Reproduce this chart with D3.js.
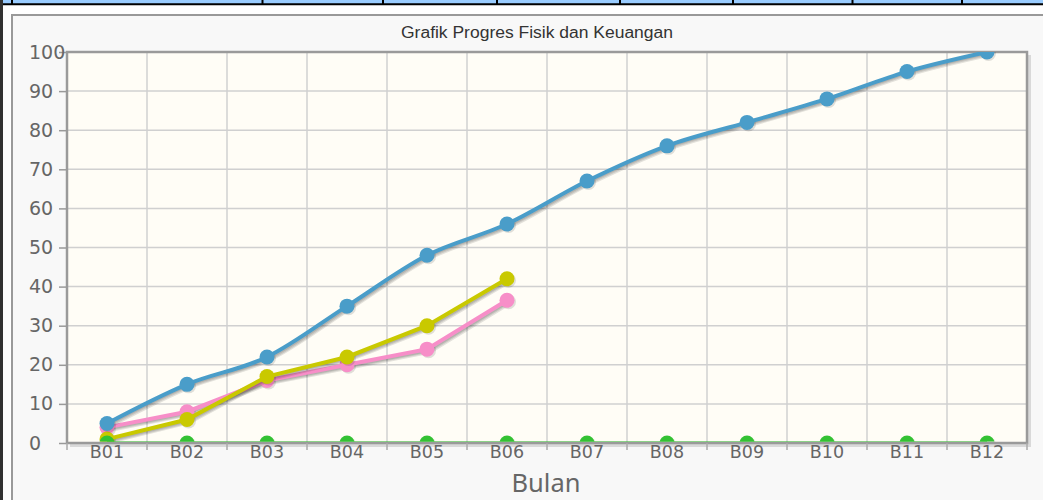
<!DOCTYPE html>
<html>
<head>
<meta charset="utf-8">
<script src="https://cdn.jsdelivr.net/npm/d3@7"></script>
<style>
    body { margin: 0; background: #ffffff; overflow: hidden; }
    svg { display: block; }
</style>
</head>
<body>
<svg width="1043" height="500"></svg>
<script>
var bulan = ["B01", "B02", "B03", "B04", "B05", "B06", "B07", "B08", "B09", "B10", "B11", "B12"];
var yTicks = [0, 10, 20, 30, 40, 50, 60, 70, 80, 90, 100];

var rencana = [5, 15, 22, 35, 48, 56, 67, 76, 82, 88, 95, 100];
var realisasiFisik = [1, 6, 17, 22, 30, 42];
var realisasiKeuangan = [4, 8, 16, 20, 24, 36.5];
var deviasi = [0, 0, 0, 0, 0, 0, 0, 0, 0, 0, 0, 0];

var titleText = "Grafik Progres Fisik dan Keuangan";
var xLabelText = "Bulan";

var canvas = d3.select("svg");

var plot = { left: 67, top: 52, right: 1027, bottom: 443 };

var colorRencana = "#4a9dc9";
var colorFisik = "#c9c900";
var colorKeuangan = "#f78ec8";
var colorDeviasi = "#33c233";
var colorText = "#666666";

// page decoration: table row above the chart
canvas.append("rect").attr("x", 0).attr("y", 0).attr("width", 1043).attr("height", 4).attr("fill", "#99ccff");
canvas.append("line").attr("x1", 0).attr("x2", 1043).attr("y1", 4.3).attr("y2", 4.3)
    .attr("stroke", "#000").attr("stroke-width", 2);
[12, 262.5, 383, 497, 620, 733, 852.5, 962].forEach(function (x) {
    canvas.append("line").attr("x1", x).attr("x2", x).attr("y1", 0).attr("y2", 4)
        .attr("stroke", "#000").attr("stroke-width", 2);
});
canvas.append("rect").attr("x", 0).attr("y", 0).attr("width", 3).attr("height", 500).attr("fill", "#333333");

// chart panel
canvas.append("rect")
    .attr("x", 12).attr("y", 15).attr("width", 1100).attr("height", 600)
    .attr("fill", "#f8f8f8").attr("stroke", "#999999").attr("stroke-width", 2);

var xScale = d3.scaleBand()
    .domain(bulan)
    .range([plot.left, plot.right]);

var yScale = d3.scaleLinear()
    .domain([0, 100])
    .range([plot.bottom, plot.top]);

var defs = canvas.append("defs");
defs.append("clipPath").attr("id", "plotClip")
    .append("rect")
    .attr("x", plot.left).attr("y", plot.top)
    .attr("width", plot.right - plot.left).attr("height", plot.bottom - plot.top - 1.5);

// grid background
canvas.append("rect")
    .attr("x", plot.left).attr("y", plot.top)
    .attr("width", plot.right - plot.left).attr("height", plot.bottom - plot.top)
    .attr("fill", "#fffdf6");

// horizontal grid lines
canvas.append("g").selectAll("line")
    .data(yTicks)
    .enter()
    .append("line")
    .attr("x1", plot.left).attr("x2", plot.right)
    .attr("y1", d => yScale(d)).attr("y2", d => yScale(d))
    .attr("stroke", "#d0d0d0").attr("stroke-width", 1.5);

// vertical grid lines at band boundaries
var boundaries = bulan.map(d => xScale(d)).concat([plot.right]);
canvas.append("g").selectAll("line")
    .data(boundaries)
    .enter()
    .append("line")
    .attr("x1", d => d).attr("x2", d => d)
    .attr("y1", plot.top).attr("y2", plot.bottom)
    .attr("stroke", "#d0d0d0").attr("stroke-width", 1.5);

// border shadow then border
canvas.append("path")
    .attr("d", `M${plot.left + 3},${plot.bottom + 2.5}H${plot.right + 2.5}V${plot.top + 3}`)
    .attr("fill", "none").attr("stroke", "rgba(0,0,0,0.12)").attr("stroke-width", 3);
canvas.append("rect")
    .attr("x", plot.left).attr("y", plot.top)
    .attr("width", plot.right - plot.left).attr("height", plot.bottom - plot.top)
    .attr("fill", "none").attr("stroke", "#9a9a9a").attr("stroke-width", 2.5);

// y axis: tick marks at the plot edge, labels left aligned like the original
var yAxis = canvas.append("g")
    .attr("transform", `translate(${plot.left - 1},0)`)
    .call(d3.axisLeft(yScale).tickValues(yTicks).tickSize(7).tickPadding(4));
yAxis.select(".domain").remove();
yAxis.selectAll(".tick line").attr("stroke", "#999999").attr("stroke-width", 1.5);
yAxis.selectAll(".tick text")
    .attr("x", 29 - (plot.left - 1))
    .attr("text-anchor", "start")
    .attr("fill", colorText)
    .style("font-family", "'DejaVu Sans'")
    .style("font-size", "19px");

// x axis: labels centred on bands, tick marks on boundaries
var xAxis = canvas.append("g")
    .attr("transform", `translate(0,${plot.bottom})`)
    .call(d3.axisBottom(xScale).tickSize(0).tickPadding(3));
xAxis.select(".domain").remove();
xAxis.selectAll(".tick text")
    .attr("fill", colorText)
    .style("font-family", "'DejaVu Sans'")
    .style("font-size", "17.5px");

canvas.append("g").selectAll("line")
    .data(boundaries)
    .enter()
    .append("line")
    .attr("x1", d => d).attr("x2", d => d)
    .attr("y1", plot.bottom).attr("y2", plot.bottom + 7)
    .attr("stroke", "#aaaaaa").attr("stroke-width", 1.5);

// titles
canvas.append("text")
    .attr("x", 537).attr("y", 38)
    .attr("text-anchor", "middle")
    .attr("fill", "#333333")
    .attr("textLength", 272)
    .attr("lengthAdjust", "spacingAndGlyphs")
    .style("font-family", "'Liberation Sans'")
    .style("font-size", "16px")
    .text(titleText);

canvas.append("text")
    .attr("x", 546).attr("y", 492)
    .attr("text-anchor", "middle")
    .attr("fill", colorText)
    .style("font-family", "'Noto Sans'")
    .style("font-size", "25.5px")
    .text(xLabelText);

// series
var seriesList = [
    { values: realisasiKeuangan, color: colorKeuangan, curve: d3.curveLinear },
    { values: realisasiFisik, color: colorFisik, curve: d3.curveLinear },
    { values: rencana, color: colorRencana, curve: d3.curveMonotoneX },
    { values: deviasi, color: colorDeviasi, curve: d3.curveLinear }
];

var seriesLayer = canvas.append("g").attr("clip-path", "url(#plotClip)");

seriesList.forEach(function (s) {
    var points = s.values.map(function (v, i) {
        return { x: xScale(bulan[i]) + xScale.bandwidth() / 2, y: yScale(v) };
    });
    var line = d3.line().x(d => d.x).y(d => d.y).curve(s.curve);

    var g = seriesLayer.append("g");

    // shadow
    [1, 2, 3].forEach(function (k) {
        g.append("path")
            .attr("d", line(points))
            .attr("transform", `translate(${k * 0.9},${k * 0.9})`)
            .attr("fill", "none")
            .attr("stroke", "rgba(0,0,0,0.11)")
            .attr("stroke-width", 4);
    });
    g.selectAll("circle.shadow")
        .data(points)
        .enter()
        .append("circle")
        .attr("class", "shadow")
        .attr("cx", d => d.x + 1.5).attr("cy", d => d.y + 1.5)
        .attr("r", 7.5)
        .attr("fill", "rgba(0,0,0,0.12)");

    g.append("path")
        .attr("d", line(points))
        .attr("fill", "none")
        .attr("stroke", s.color)
        .attr("stroke-width", 4);

    g.selectAll("circle.dot")
        .data(points)
        .enter()
        .append("circle")
        .attr("class", "dot")
        .attr("cx", d => d.x).attr("cy", d => d.y)
        .attr("r", 7.5)
        .attr("fill", s.color);
});
</script>
</body>
</html>
